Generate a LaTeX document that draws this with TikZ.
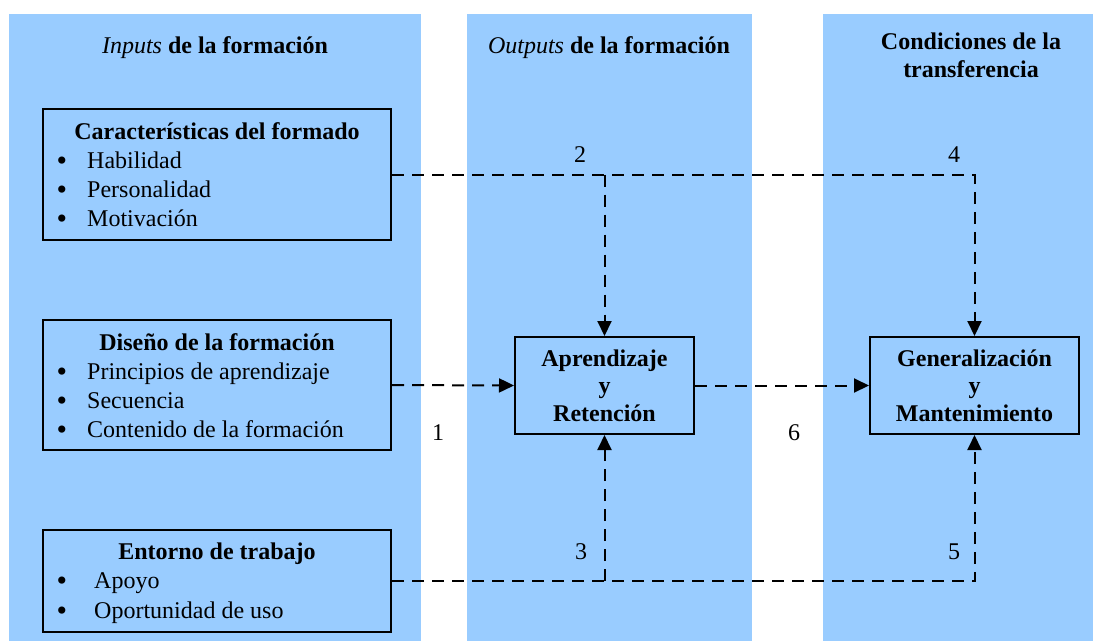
\documentclass[tikz,border=0pt]{standalone}
\usepackage{fontspec}
\setmainfont{Liberation Serif}
\usetikzlibrary{arrows.meta}
\definecolor{colblue}{RGB}{153,204,255}
\tikzset{
  txt/.style={font=\fontsize{24}{28}\selectfont, inner sep=0pt},
  head/.style={txt, anchor=base, align=center},
  box/.style={draw, line width=2pt, txt, align=center, font=\fontsize{24}{27.5}\selectfont\bfseries},
  item/.style={txt, anchor=base west},
  dot/.style={inner sep=0pt, anchor=base, font=\fontsize{30}{30}\selectfont},
  num/.style={txt, anchor=base},
  flow/.style={line width=2pt, dash pattern=on 12pt off 8pt, -{Triangle[length=15pt,width=14pt]}},
}
\begin{document}
\begin{tikzpicture}[x=1pt,y=-1pt]
        \useasboundingbox (0,0) rectangle (1093,641);
        % columns
        \fill[colblue] (9,14) rectangle (421,641);
        \fill[colblue] (467,14) rectangle (752,641);
        \fill[colblue] (823,14) rectangle (1093,641);

        % headers
        \node (hin) [head] at (215,53) {\textit{Inputs} \textbf{de la formación}};
        \node (hout) [head] at (609,53) {\textit{Outputs} \textbf{de la formación}};
        \node (hcond) [head] at (971,77) {\textbf{Condiciones de la}\\\textbf{transferencia}};

        % input boxes
        \node (carac) [box, minimum width=348pt, minimum height=131pt] at (217,174.5) {};
        \node (tcarac) [head] at (217,139) {\textbf{Características del formado}};
        \foreach \t [count=\i] in {Habilidad, Personalidad, Motivación} {
          \node (dcarac\i) [dot] at (62,141+29*\i) {\textbullet};
          \node (icarac\i) [item] at (87,139+29*\i) {\t};
        }

        \node (dise) [box, minimum width=348pt, minimum height=130pt] at (217,385) {};
        \node (tdise) [head] at (217,350) {\textbf{Diseño de la formación}};
        \foreach \t [count=\i] in {Principios de aprendizaje, Secuencia, Contenido de la formación} {
          \node (ddise\i) [dot] at (62,352+29*\i) {\textbullet};
          \node (idise\i) [item] at (87,350+29*\i) {\t};
        }

        \node (ento) [box, minimum width=348pt, minimum height=102pt] at (217,581) {};
        \node (tento) [head] at (217,559) {\textbf{Entorno de trabajo}};
        \foreach \t [count=\i] in {Apoyo, Oportunidad de uso} {
          \node (dento\i) [dot] at (62,561+29.5*\i) {\textbullet};
          \node (iento\i) [item] at (94,559+29.5*\i) {\t};
        }

        % output boxes
        \node (apren) [box, minimum width=179pt, minimum height=97pt] at (604.5,385.5) {Aprendizaje\\y\\Retención};
        \node (gener) [box, minimum width=209pt, minimum height=97pt] at (974.5,385.5) {Generalización\\y\\Mantenimiento};

        % edges
        \draw[flow] (carac.east) -| (gener.north);
        \draw[flow] (carac.east -| apren.north) -- (apren.north);
        \draw[flow] (dise.east) -- (apren.west);
        \draw[flow] (apren.east) -- (gener.west);
        \draw[flow] (ento.east) -| (gener.south);
        \draw[flow] (ento.east -| apren.south) -- (apren.south);

        % labels
        \node (n1) [num] at (438,440) {1};
        \node (n2) [num] at (580,162) {2};
        \node (n3) [num] at (581,559) {3};
        \node (n4) [num] at (954,162) {4};
        \node (n5) [num] at (954,559) {5};
        \node (n6) [num] at (794,440) {6};
\end{tikzpicture}
\end{document}
